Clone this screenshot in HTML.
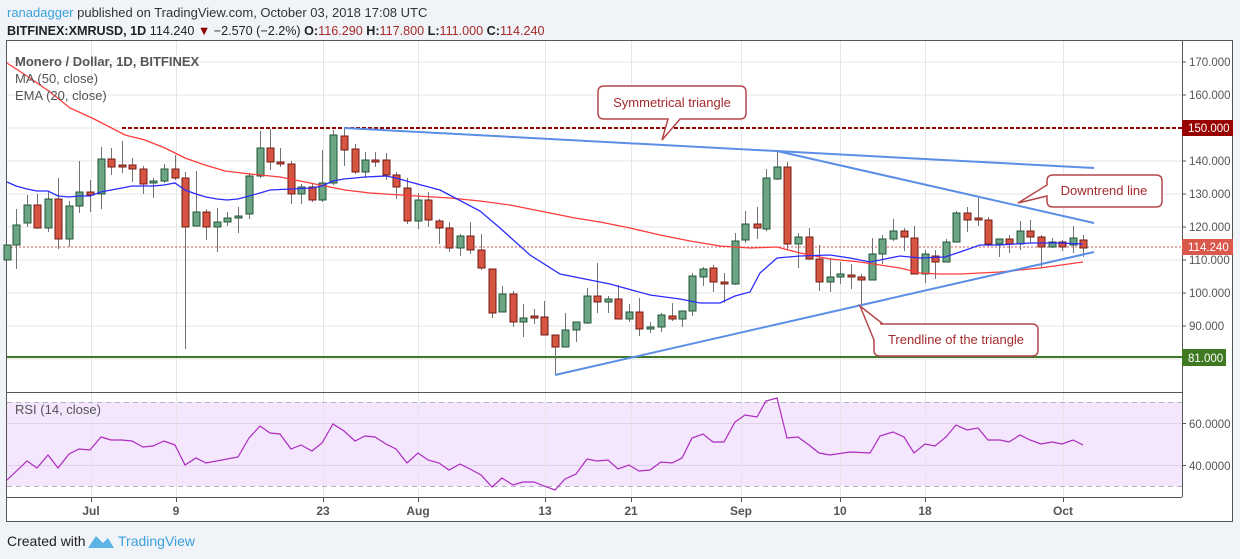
<!DOCTYPE html>
<html><head><meta charset="utf-8"><style>
body{margin:0;background:#f0f3f7;width:1240px;height:559px;overflow:hidden;font-family:"Liberation Sans",sans-serif;}
svg{position:absolute;left:0;top:0}
.t{font-family:"Liberation Sans",sans-serif}
</style></head><body>
<svg width="1240" height="559" viewBox="0 0 1240 559" xmlns="http://www.w3.org/2000/svg">
<text x="7" y="17" font-size="13" class="t" fill="#333"><tspan fill="#3ba0db">ranadagger</tspan> published on TradingView.com, October 03, 2018 17:08 UTC</text>
<text x="7" y="35" font-size="12.6" class="t" fill="#222"><tspan font-weight="bold">BITFINEX:XMRUSD, 1D</tspan> 114.240 <tspan fill="#8b0000">▼</tspan> −2.570 (−2.2%) <tspan font-weight="bold">O:</tspan><tspan fill="#a52a2a">116.290</tspan> <tspan font-weight="bold">H:</tspan><tspan fill="#a52a2a">117.800</tspan> <tspan font-weight="bold">L:</tspan><tspan fill="#a52a2a">111.000</tspan> <tspan font-weight="bold">C:</tspan><tspan fill="#a52a2a">114.240</tspan></text>
<rect x="6.5" y="40.5" width="1226" height="481" fill="#fff" stroke="#555"/>
<g stroke="#e6e6e6" stroke-width="1">
<line x1="7" x2="1182" y1="62" y2="62"/><line x1="7" x2="1182" y1="95" y2="95"/><line x1="7" x2="1182" y1="128" y2="128"/><line x1="7" x2="1182" y1="161" y2="161"/><line x1="7" x2="1182" y1="194" y2="194"/><line x1="7" x2="1182" y1="227" y2="227"/><line x1="7" x2="1182" y1="260" y2="260"/><line x1="7" x2="1182" y1="293" y2="293"/><line x1="7" x2="1182" y1="326" y2="326"/><line x1="7" x2="1182" y1="359" y2="359"/>
</g>
<rect x="7" y="402" width="1175" height="84" fill="#f3e6fd"/>
<g stroke="#e0d0ea"><line x1="7" x2="1182" y1="423.5" y2="423.5"/><line x1="7" x2="1182" y1="465.5" y2="465.5"/></g>
<g stroke="#e6e6e6" id="vg"></g>
<g stroke="#b8b0c0" stroke-dasharray="5,4"><line x1="7" x2="1182" y1="402.5" y2="402.5"/><line x1="7" x2="1182" y1="486.5" y2="486.5"/></g>
<line x1="7" x2="1182" y1="392.5" y2="392.5" stroke="#555"/>
<line x1="7" x2="1182" y1="497.5" y2="497.5" stroke="#555"/>
<line x1="1182.5" x2="1182.5" y1="40" y2="497" stroke="#555"/>
<line x1="7" x2="1182" y1="357" y2="357" stroke="#3f7a2a" stroke-width="2"/>
<line x1="122" x2="1182" y1="128" y2="128" stroke="#990000" stroke-width="2" stroke-dasharray="4,2"/>
<line x1="7" x2="1182" y1="247" y2="247" stroke="#d9534f" stroke-width="1" stroke-dasharray="2,2"/>
<g id="cd"></g>
<polyline fill="none" stroke="#ff3b3b" stroke-width="1.3" points="7,63 30,78 50,92 70,108 92,118 100,122 125,135 145,140 165,148 185,158 205,165 225,171 250,174 280,177 300,181 325,186 345,190 370,193 400,195 450,198 480,201 510,205 540,211 575,218 600,222 630,228 660,235 690,241 720,246 750,248 777,247 800,253 830,259 860,262 880,265 900,268 920,273 940,274 960,274 1000,272 1040,268 1083,262"/>
<polyline fill="none" stroke="#2b2bff" stroke-width="1.3" points="7,182 16,186 27,189 37,191 48,191 58,196 69,197 79,196 90,196 101,192 111,190 122,188 132,186 153,186 164,185 175,183 185,190 196,194 206,197 217,199 227,200 238,199 249,196 260,193 270,190 291,189 312,188 322,186 333,181 344,179 365,177 386,176 396,178 410,182 440,190 480,211 500,228 530,255 560,274 580,278 610,284 650,295 680,299 700,303 720,303 735,296 750,292 760,273 777,258 800,256 830,255 850,258 870,262 900,256 920,258 945,257 960,252 980,245 1000,245 1030,243 1060,243 1083,244"/>
<g stroke="#5b8ee6" stroke-width="2" fill="none">
<line x1="344" y1="128" x2="1094" y2="168"/>
<line x1="777" y1="151" x2="1094" y2="223"/>
<line x1="555" y1="375" x2="1094" y2="252"/>
</g>
<g fill="#fff" stroke="#b4474a" stroke-width="1.5">
<path d="M604,86 H740 Q746,86 746,92 V113 Q746,119 740,119 H680 L662,140 L668,119 H604 Q598,119 598,113 V92 Q598,86 604,86 Z"/>
<path d="M1053,175 H1156 Q1162,175 1162,181 V201 Q1162,207 1156,207 H1053 Q1047,207 1047,201 V196 L1018,203 L1047,185 V181 Q1047,175 1053,175 Z"/>
<path d="M880,324 H1032 Q1038,324 1038,330 V350 Q1038,356 1032,356 H880 Q874,356 874,350 V340 L860,306 L883,324 Z"/>
</g>
<g class="t" fill="#a52a2a" font-size="13">
<text x="672" y="107" text-anchor="middle">Symmetrical triangle</text>
<text x="1104" y="195" text-anchor="middle">Downtrend line</text>
<text x="956" y="344" text-anchor="middle">Trendline of the triangle</text>
</g>
<polyline fill="none" stroke="#ad2bbf" stroke-width="1.2" points="7,480 27,461 37,468 48,455 58,468 69,454 79,449 90,450 101,437 111,440 122,440 132,441 143,447 153,446 164,441 175,445 185,465 196,458 206,463 238,457 249,438 260,426 270,433 280,434 291,449 301,445 312,451 322,443 333,424 344,431 355,441 365,436 375,437 386,444 396,449 407,463 418,453 428,460 439,463 449,470 460,464 470,469 481,475 492,487 502,478 513,485 523,482 534,482 544,486 555,490 565,479 576,474 587,459 597,461 608,460 618,469 629,465 639,471 650,470 661,462 672,463 682,458 692,438 703,434 713,442 724,442 735,422 745,415 757,417 766,401 777,398 787,438 798,437 809,445 819,453 830,455 850,452 870,453 880,436 893,432 904,437 914,453 925,444 935,446 946,437 956,425 967,430 978,428 988,440 1000,440 1009,442 1020,435 1030,440 1041,444 1052,442 1062,444 1073,440 1083,445"/>
<text x="15" y="414" font-size="13" class="t" fill="#555">RSI (14, close)</text>
<g class="t" font-size="13">
<text x="15" y="66" font-weight="bold" fill="#555">Monero / Dollar, 1D, BITFINEX</text>
<text x="15" y="83" fill="#555">MA (50, close)</text>
<text x="15" y="100" fill="#555">EMA (20, close)</text>
</g>
<g class="t" fill="#555" font-size="11.5">
<text x="1189" y="66">170.000</text><text x="1189" y="99">160.000</text><text x="1189" y="165">140.000</text><text x="1189" y="198">130.000</text><text x="1189" y="231">120.000</text><text x="1189" y="264">110.000</text><text x="1189" y="297">100.000</text><text x="1189" y="330">90.000</text>
<text x="1189" y="428">60.0000</text><text x="1189" y="470">40.0000</text>
</g>
<g stroke="#555"><line x1="1182" x2="1186" y1="62" y2="62"/><line x1="1182" x2="1186" y1="95" y2="95"/><line x1="1182" x2="1186" y1="161" y2="161"/><line x1="1182" x2="1186" y1="194" y2="194"/><line x1="1182" x2="1186" y1="227" y2="227"/><line x1="1182" x2="1186" y1="260" y2="260"/><line x1="1182" x2="1186" y1="293" y2="293"/><line x1="1182" x2="1186" y1="326" y2="326"/><line x1="1182" x2="1186" y1="423.5" y2="423.5"/><line x1="1182" x2="1186" y1="465.5" y2="465.5"/></g>
<rect x="1182" y="120" width="51" height="16" fill="#990000"/><text x="1188" y="132" font-size="11.5" class="t" fill="#fff">150.000</text>
<rect x="1182" y="239" width="51" height="16" fill="#d9574b"/><text x="1188" y="251" font-size="11.5" class="t" fill="#fff">114.240</text>
<rect x="1182" y="349" width="44" height="17" fill="#3f7a22"/><text x="1188" y="362" font-size="11.5" class="t" fill="#fff">81.000</text>
<g class="t" fill="#555" font-size="12" font-weight="bold" text-anchor="middle">
<text x="91" y="515">Jul</text><text x="176" y="515">9</text><text x="323" y="515">23</text><text x="418" y="515">Aug</text><text x="545" y="515">13</text><text x="631" y="515">21</text><text x="741" y="515">Sep</text><text x="840" y="515">10</text><text x="925" y="515">18</text><text x="1063" y="515">Oct</text>
</g>
<g id="tk" stroke="#555"></g>
<text x="7" y="546" font-size="14" class="t" fill="#222">Created with</text>
<path d="M88,548 L96,536 L103,543 L108,538 L114,548 Z" fill="#5ab4e6"/>
<text x="118" y="546" font-size="14" class="t" fill="#3ba0db">TradingView</text>
</svg>
<script>
var C=[[7,245,260,245,260,1],[16,225,245,209,269,1],[27,205,223,195,227,1],[37,205,228,194,229,0],[48,199,228,192,232,1],[58,199,239,178,249,0],[69,206,239,201,247,1],[79,192,206,161,213,1],[90,192,195,180,212,0],[101,159,194,147,209,1],[111,159,167,148,175,0],[122,165,167,141,173,0],[132,165,169,158,182,0],[143,169,184,166,194,0],[153,181,183,178,198,1],[164,169,181,164,183,1],[175,169,178,155,180,0],[185,178,227,172,349,0],[196,212,226,171,226,1],[206,212,227,209,240,0],[217,222,227,208,252,1],[227,218,222,212,226,1],[238,216,218,207,233,1],[249,176,214,173,219,1],[260,148,176,131,178,1],[270,148,162,129,170,0],[280,162,164,148,167,0],[291,164,194,161,204,0],[301,187,194,184,204,1],[312,187,200,183,202,0],[322,183,200,150,202,1],[333,135,183,130,185,1],[344,136,150,128,166,0],[355,149,172,144,174,0],[365,160,172,152,178,1],[375,160,162,152,167,0],[386,160,175,153,180,0],[396,175,187,172,199,0],[407,188,221,178,224,0],[418,200,221,193,229,1],[428,200,220,192,227,0],[439,221,228,219,244,0],[449,228,248,222,252,0],[460,236,248,234,256,1],[470,236,250,222,254,0],[481,250,268,234,270,0],[492,269,313,269,318,0],[502,294,312,286,312,1],[513,294,322,291,327,0],[523,318,322,304,337,1],[534,316,318,309,324,0],[544,317,335,301,335,0],[555,335,347,335,375,0],[565,330,347,313,347,1],[576,322,330,322,342,1],[587,296,323,288,324,1],[597,296,302,263,313,0],[608,299,302,296,313,1],[618,299,319,285,319,0],[629,312,319,304,322,1],[639,312,329,298,336,0],[650,327,329,322,333,1],[661,315,327,313,332,1],[672,316,319,303,321,0],[682,311,319,311,327,1],[692,276,311,273,316,1],[703,269,277,267,286,1],[713,268,282,265,292,0],[724,282,284,273,303,0],[735,241,284,233,285,1],[745,224,240,211,243,1],[757,224,228,207,239,0],[766,178,229,169,231,1],[777,167,179,152,180,1],[787,167,244,162,250,0],[798,237,244,233,268,1],[809,237,259,228,260,0],[819,259,282,245,291,0],[830,277,282,258,292,1],[840,274,277,262,284,1],[851,275,277,264,289,0],[861,277,280,274,305,0],[872,254,280,238,280,1],[882,239,254,235,264,1],[893,231,239,219,241,1],[904,231,237,228,251,0],[914,238,274,226,274,0],[925,254,274,250,283,1],[935,256,262,250,279,0],[946,242,262,239,262,1],[956,213,242,211,242,1],[967,213,220,207,232,0],[978,218,220,198,226,0],[988,220,244,217,246,0],[999,239,244,239,257,1],[1009,239,244,235,253,0],[1020,231,244,221,250,1],[1030,231,237,220,243,0],[1041,237,247,235,268,0],[1052,242,247,238,248,1],[1062,242,247,240,251,0],[1073,238,245,226,253,1],[1083,240,248,235,257,0]];
var s='';C.forEach(function(c){var x=c[0],g=c[5];s+='<line x1="'+x+'.5" x2="'+x+'.5" y1="'+c[3]+'" y2="'+c[4]+'" stroke="#737375"/>';var h=Math.max(c[2]-c[1],1.5);s+='<rect x="'+(x-3)+'" y="'+c[1]+'" width="7" height="'+h+'" fill="'+(g?'#6ba583':'#d75442')+'" stroke="'+(g?'#225437':'#6f1c13')+'"/>';});
document.getElementById('cd').innerHTML=s;
var v=[91,176,323,418,545,631,741,840,925,1063],a='',b='';v.forEach(function(x){a+='<line x1="'+x+'.5" x2="'+x+'.5" y1="41" y2="497"/>';b+='<line x1="'+x+'.5" x2="'+x+'.5" y1="497" y2="502"/>';});
document.getElementById('vg').innerHTML=a;document.getElementById('tk').innerHTML=b;
</script>
</body></html>
